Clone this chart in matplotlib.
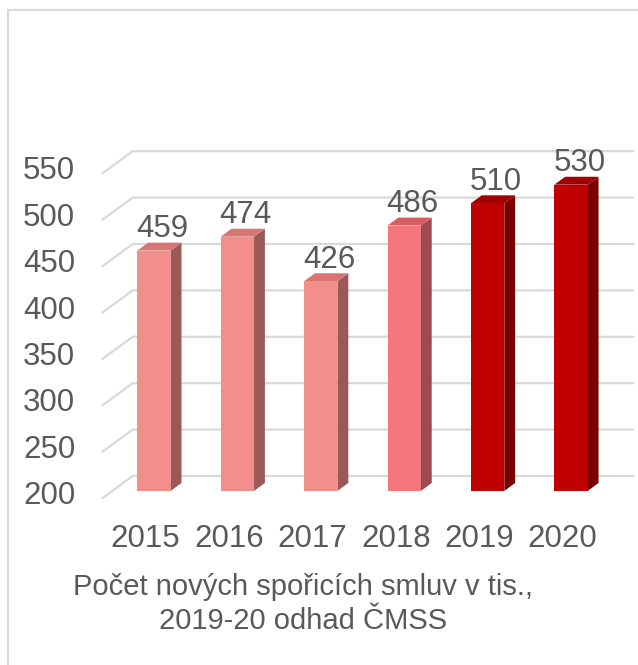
import matplotlib
matplotlib.use("Agg")
import matplotlib.pyplot as plt
from matplotlib.patches import Polygon
from matplotlib.lines import Line2D

# ---- data ----
years = ["2015", "2016", "2017", "2018", "2019", "2020"]
values = [459, 474, 426, 486, 510, 530]
ticks = [200, 250, 300, 350, 400, 450, 500, 550]
caption = "Počet nových spořicích smluv v tis.,\n2019-20 odhad ČMSS"

# ---- styles ----
front_cols = ["#F28E8C", "#F28E8C", "#F28E8C", "#F4777C", "#C00000", "#C00000"]
top_cols = ["#D97472", "#D97472", "#D97472", "#D45E63", "#A00000", "#A00000"]
side_cols = ["#9B5858", "#9B5858", "#9B5858", "#9E4A50", "#7A0000", "#7A0000"]
grid_col = "#D9D9D9"
text_col = "#595959"
FONT = "Liberation Sans"

W, H = 638, 665
fig = plt.figure(figsize=(W / 100, H / 100), dpi=100)
ax = fig.add_axes([0, 0, 1, 1])
ax.set_xlim(-1.731, 5.918)
ax.set_ylim(20.0, 736.6)
ax.axis("off")

# oblique depth projection (depth t from 0 = floor front to 1 = back wall)
DX, DY = 0.36, 23.7
def P(x, y, t):
    return (x + t * DX, y + t * DY)

x_left, x_right = -0.5, 5.5
base = ticks[0]

# gridlines: left wall diagonal + back wall horizontal
for tv in ticks:
    pts = [P(x_left, tv, 0), P(x_left, tv, 1), P(x_right, tv, 1)]
    ax.add_line(Line2D([p[0] for p in pts], [p[1] for p in pts],
                       color=grid_col, lw=1.6, zorder=1))
    ax.text(x_left - 0.33, tv + 2, str(tv), ha="right", va="center",
            fontsize=22.5, color=text_col, family=FONT)

# bars
hw = 0.2
t0, t1 = 0.32, 0.68
for i, (v, fc, tc, sc) in enumerate(zip(values, front_cols, top_cols, side_cols)):
    xl, xr = i - hw, i + hw
    front = [P(xl, base, t0), P(xr, base, t0), P(xr, v, t0), P(xl, v, t0)]
    side = [P(xr, base, t0), P(xr, base, t1), P(xr, v, t1), P(xr, v, t0)]
    top = [P(xl, v, t0), P(xr, v, t0), P(xr, v, t1), P(xl, v, t1)]
    ax.add_patch(Polygon(side, closed=True, fc=sc, ec="none", zorder=3))
    ax.add_patch(Polygon(top, closed=True, fc=tc, ec="none", zorder=3))
    ax.add_patch(Polygon(front, closed=True, fc=fc, ec="none", zorder=4))
    lx, ly = P(i, v, t0)
    ax.text(lx + 0.1, ly + 7, str(v), ha="center", va="bottom",
            fontsize=22.5, color=text_col, family=FONT, zorder=5)
    bx, by = P(i, base, t0)
    ax.text(bx - 0.1, by - 36, years[i], ha="center", va="top",
            fontsize=22.5, color=text_col, family=FONT)

# caption
fig.text(303 / W, 1 - 604 / H, caption, ha="center", va="center",
         fontsize=21, color=text_col, family=FONT, linespacing=1.25)

# outer frame (top and left edges)
fig.add_artist(Line2D([8 / W, 1], [1 - 10 / H, 1 - 10 / H],
                      transform=fig.transFigure, color=grid_col, lw=1.5))
fig.add_artist(Line2D([8 / W, 8 / W], [0, 1 - 10 / H],
                      transform=fig.transFigure, color=grid_col, lw=1.5))

fig.savefig("out.png", dpi=100)
